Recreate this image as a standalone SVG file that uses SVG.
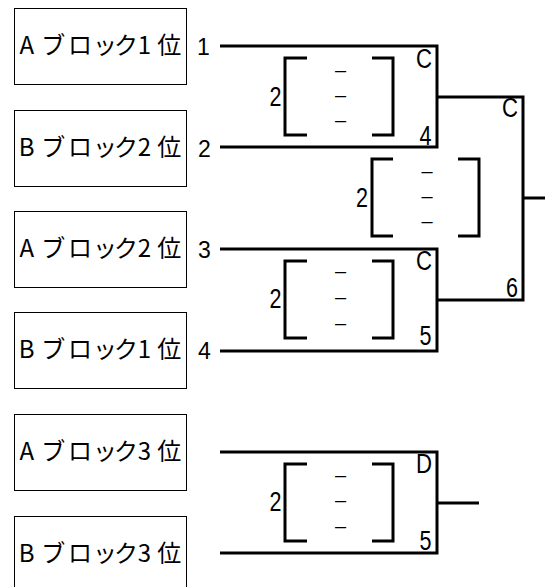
<svg xmlns="http://www.w3.org/2000/svg" width="552" height="587" viewBox="0 0 552 587">
<style>
.box{fill:#fff;stroke:#000;stroke-width:1}
.lbl{font-family:"Noto Sans CJK JP","Liberation Sans",sans-serif;font-size:24px;fill:#000;text-anchor:middle}
.num{font-family:"Liberation Sans",Arial,sans-serif;font-size:23px;fill:#000}
.big{font-family:"Liberation Sans",Arial,sans-serif;font-size:27px;fill:#000}
.dash{font-family:"Liberation Sans",Arial,sans-serif;font-size:20px;fill:#000;text-anchor:middle}
.ln{fill:none;stroke:#000;stroke-width:3}
</style>
<rect width="552" height="587" fill="#fff"/>
<g id="team-a1"><rect class="box" x="14.5" y="8.5" width="172" height="76"/><text class="lbl" x="26.7 53.3 80 105 126 144.5 169.2" y="54">Aブロック1位</text></g>
<g id="team-b2"><rect class="box" x="14.5" y="110.5" width="172" height="76"/><text class="lbl" x="26.7 53.3 80 105 126 144.5 169.2" y="156">Bブロック2位</text></g>
<g id="team-a2"><rect class="box" x="14.5" y="211.5" width="172" height="76"/><text class="lbl" x="26.7 53.3 80 105 126 144.5 169.2" y="257">Aブロック2位</text></g>
<g id="team-b1"><rect class="box" x="14.5" y="312.5" width="172" height="76"/><text class="lbl" x="26.7 53.3 80 105 126 144.5 169.2" y="358">Bブロック1位</text></g>
<g id="team-a3"><rect class="box" x="14.5" y="414.5" width="172" height="76"/><text class="lbl" x="26.7 53.3 80 105 126 144.5 169.2" y="460">Aブロック3位</text></g>
<g id="team-b3"><rect class="box" x="14.5" y="516.5" width="172" height="80"/><text class="lbl" x="26.7 53.3 80 105 126 144.5 169.2" y="562">Bブロック3位</text></g>
<g id="seeds">
<text class="num" x="197" y="55">1</text>
<text class="num" x="198" y="157">2</text>
<text class="num" x="198" y="258">3</text>
<text class="num" x="198" y="359">4</text>
</g>
<g id="connectors">
<path class="ln" d="M220,46 H437 V147 H220"/>
<path class="ln" d="M220,249 H437 V351 H220"/>
<path class="ln" d="M437,97 H523 V300 H437"/>
<path class="ln" d="M523,198 H545"/>
<path class="ln" d="M220,452 H437 V553 H220"/>
<path class="ln" d="M437,503 H479"/>
</g>
<g id="match-1">
<path class="ln" d="M307,58 H285 V135 H307 M372,58 H393 V135 H372"/>
<text class="big" x="269.5" y="106" textLength="12" lengthAdjust="spacingAndGlyphs">2</text>
<text class="dash" x="340.5" y="76.5">–</text><text class="dash" x="340.5" y="101.5">–</text><text class="dash" x="340.5" y="126.5">–</text>
<text class="big" x="416" y="68" textLength="16" lengthAdjust="spacingAndGlyphs">C</text>
<text class="big" x="419.5" y="145" textLength="12" lengthAdjust="spacingAndGlyphs">4</text>
</g>
<g id="match-2">
<path class="ln" d="M307,261 H285 V338 H307 M372,261 H393 V338 H372"/>
<text class="big" x="269.5" y="308" textLength="12" lengthAdjust="spacingAndGlyphs">2</text>
<text class="dash" x="340.5" y="277.5">–</text><text class="dash" x="340.5" y="303.5">–</text><text class="dash" x="340.5" y="329.5">–</text>
<text class="big" x="416" y="270" textLength="16" lengthAdjust="spacingAndGlyphs">C</text>
<text class="big" x="419.5" y="345" textLength="12" lengthAdjust="spacingAndGlyphs">5</text>
</g>
<g id="match-final">
<path class="ln" d="M393,159 H372 V236 H393 M458,159 H479 V236 H458"/>
<text class="big" x="356" y="207" textLength="12" lengthAdjust="spacingAndGlyphs">2</text>
<text class="dash" x="427" y="177.5">–</text><text class="dash" x="427" y="202.5">–</text><text class="dash" x="427" y="227.5">–</text>
<text class="big" x="502" y="117" textLength="16" lengthAdjust="spacingAndGlyphs">C</text>
<text class="big" x="506" y="297" textLength="12" lengthAdjust="spacingAndGlyphs">6</text>
</g>
<g id="match-3rd">
<path class="ln" d="M307,464 H285 V541 H307 M372,464 H393 V541 H372"/>
<text class="big" x="269.5" y="511" textLength="12" lengthAdjust="spacingAndGlyphs">2</text>
<text class="dash" x="340.5" y="482">–</text><text class="dash" x="340.5" y="507">–</text><text class="dash" x="340.5" y="533">–</text>
<text class="big" x="416" y="473" textLength="16" lengthAdjust="spacingAndGlyphs">D</text>
<text class="big" x="419.5" y="550" textLength="12" lengthAdjust="spacingAndGlyphs">5</text>
</g>
</svg>
